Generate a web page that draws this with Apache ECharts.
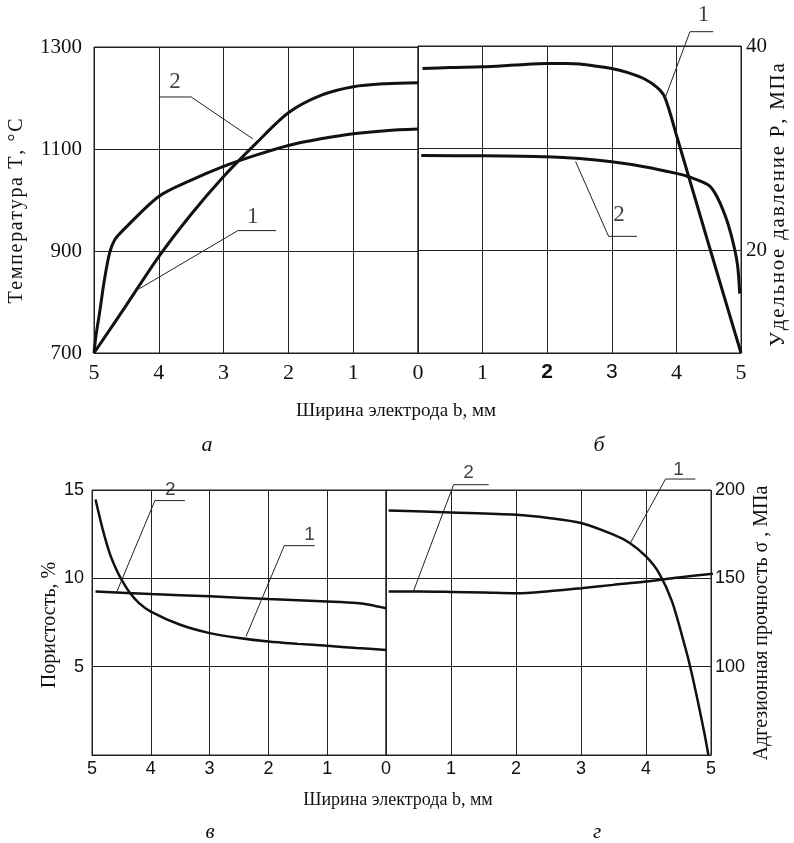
<!DOCTYPE html>
<html>
<head>
<meta charset="utf-8">
<script src="https://cdn.jsdelivr.net/npm/echarts@6/dist/echarts.min.js"></script>
<style>
html, body { margin: 0; padding: 0; background: #fff; }
#main { width: 794px; height: 843px; }
</style>
</head>
<body>
<div id="main"></div>
<script>
// а — температура, °C
const tempX1 = [5, 4.5, 4, 3.5, 3, 2.5, 2, 1.5, 1, 0.5, 0];
const tempY1 = [700, 794, 889, 972, 1046, 1111, 1171, 1205, 1222, 1228, 1230];
const tempX2 = [5, 4.965, 4.915, 4.84, 4.76, 4.68, 4.55, 4, 3.5, 3, 2.5, 2, 1.5, 1, 0.5, 0];
const tempY2 = [700, 738, 778, 843, 896, 922, 941, 1007, 1039, 1066, 1088, 1107, 1120, 1130, 1136, 1139];
// б — удельное давление, МПа
const presX1 = [0.07, 0.5, 1, 1.5, 2, 2.3, 2.5, 3, 3.25, 3.5, 3.7, 3.82, 4, 4.5, 5];
const presY1 = [37.8, 37.9, 37.97, 38.14, 38.3, 38.3, 38.25, 37.8, 37.4, 36.8, 35.96, 35.0, 31.3, 20.6, 10];
const presX2 = [0.05, 1, 2, 2.5, 3, 3.5, 4, 4.2, 4.5, 4.6, 4.7, 4.8, 4.9, 4.95, 4.98];
const presY2 = [29.3, 29.27, 29.17, 29.0, 28.68, 28.2, 27.55, 27.2, 26.4, 25.6, 24.3, 22.6, 20.2, 18.4, 15.8];
// в — пористость, %
const porX1 = [4.94, 4.82, 4.7, 4.6, 4.51, 4.36, 4.2, 4, 3.5, 3, 2.5, 2, 1.5, 1, 0.5, 0];
const porY1 = [14.46, 12.8, 11.43, 10.6, 10.0, 9.2, 8.6, 8.12, 7.37, 6.9, 6.62, 6.42, 6.29, 6.18, 6.06, 5.95];
const porX2 = [4.94, 4, 3, 2, 1, 0.5, 0.2, 0];
const porY2 = [9.26, 9.11, 8.98, 8.83, 8.69, 8.6, 8.45, 8.31];
// г — адгезионная прочность, МПа
const adhX1 = [0.04, 1, 2, 2.5, 3, 3.5, 3.75, 4, 4.2, 4.4, 4.6, 4.68, 4.8, 4.9, 4.96];
const adhY1 = [188.4, 187.3, 186, 184.2, 181.3, 174.7, 170, 162.4, 153, 137, 111.4, 100, 80, 62, 50];
const adhX2 = [0.04, 0.5, 1, 1.5, 2, 2.5, 3, 3.5, 4, 4.5, 5.03];
const adhY2 = [142.5, 142.5, 142.3, 142, 141.6, 142.7, 144.4, 146.3, 148.2, 150.5, 152.6];

// выноски (ломаные) и номера кривых, в координатах данных
const leadersA = [[[2.19, 940], [2.78, 940], [4.30, 826]], [[4.0, 1202], [3.5, 1202], [2.55, 1120]]];
const numbersA = [[2.55, 967, '1'], [3.75, 1232, '2']];
const leadersB = [[[4.57, 41.4], [4.21, 41.4], [3.83, 35.0]], [[3.39, 21.4], [2.95, 21.4], [2.44, 28.7]]];
const numbersB = [[4.42, 43.0, '1'], [3.11, 23.5, '2']];
const leadersC = [[[3.42, 14.4], [3.93, 14.4], [4.58, 9.22]], [[1.21, 11.85], [1.73, 11.85], [2.38, 6.71]]];
const numbersC = [[3.67, 15.0, '2'], [1.30, 12.47, '1']];
const leadersD = [[[1.58, 203], [1.04, 203], [0.42, 142.5]], [[4.76, 206.2], [4.30, 206.2], [3.76, 170]]];
const numbersD = [[1.27, 209.6, '2'], [4.50, 211.5, '1']];

const SERIF = 'Liberation Serif';
const SANS = 'Liberation Sans';
const INK = '#111';
const GRIDC = '#222';

function pairs(xs, ys) {
  return xs.map((x, i) => [x, ys[i]]);
}

function curve(idx, xs, ys, w) {
  return {
    type: 'line', xAxisIndex: idx, yAxisIndex: idx,
    data: pairs(xs, ys), smooth: 0.3,
    symbol: 'none', clip: false, silent: true,
    lineStyle: { color: INK, width: w }
  };
}

function leader(idx, pts) {
  return {
    type: 'line', xAxisIndex: idx, yAxisIndex: idx,
    data: pts, symbol: 'none', clip: false, silent: true,
    lineStyle: { color: GRIDC, width: 1 }
  };
}

function numbers(idx, pts, font, size) {
  return {
    type: 'scatter', xAxisIndex: idx, yAxisIndex: idx,
    data: pts, symbolSize: 1, clip: false, silent: true,
    itemStyle: { color: 'rgba(0,0,0,0)' },
    label: {
      show: true, position: 'inside', formatter: p => p.data[2],
      color: INK, fontFamily: font, fontSize: size
    }
  };
}

function xAxis(idx, inverse, hideZero, font, size, margin, mixed) {
  return {
    type: 'value', gridIndex: idx, min: 0, max: 5, interval: 1, inverse: inverse,
    axisLine: { show: true, lineStyle: { color: GRIDC, width: 1 } },
    axisTick: { show: false },
    splitLine: { show: true, lineStyle: { color: GRIDC, width: 1 } },
    axisLabel: {
      margin: margin, color: INK, fontFamily: font, fontSize: size,
      formatter: v => {
        if (hideZero && v === 0) return '';
        if (mixed && v === 2) return '{b|2}';
        if (mixed && v === 3) return '{s|3}';
        return String(v);
      },
      rich: mixed ? {
        b: { fontFamily: SANS, fontSize: size - 1, fontWeight: 'bold', color: INK },
        s: { fontFamily: SANS, fontSize: size - 1, color: INK }
      } : undefined
    }
  };
}

function yAxis(idx, pos, min, max, step, shown, font, size, margin) {
  return {
    type: 'value', gridIndex: idx, position: pos, min: min, max: max, interval: step,
    axisLine: { show: true, lineStyle: { color: GRIDC, width: 1 } },
    axisTick: { show: false },
    splitLine: { show: true, lineStyle: { color: GRIDC, width: 1 } },
    axisLabel: {
      margin: margin, color: INK, fontFamily: font, fontSize: size,
      formatter: v => shown.includes(v) ? String(v) : ''
    }
  };
}

const chart = echarts.init(document.getElementById('main'), null, { renderer: 'canvas' });

// разрядка букв в подписях осей, как в оригинале
const spaced = s => s.split('').join('\u200A');

function label(text, x, y, font, rot) {
  return {
    type: 'text', x: x, y: y, rotation: rot || 0,
    style: { text: text, font: font, fill: INK, align: 'center', verticalAlign: 'middle' }
  };
}

const option = {
  backgroundColor: '#fff',
  animation: false,
  grid: [
    { left: 94, top: 47, width: 324, height: 306, show: true, borderColor: GRIDC, borderWidth: 1 },
    { left: 418, top: 46, width: 323, height: 307, show: true, borderColor: GRIDC, borderWidth: 1 },
    { left: 92, top: 490, width: 294, height: 265, show: true, borderColor: GRIDC, borderWidth: 1 },
    { left: 386, top: 490, width: 325, height: 265, show: true, borderColor: GRIDC, borderWidth: 1 }
  ],
  xAxis: [
    xAxis(0, true, true, SERIF, 22, 9, false),
    xAxis(1, false, false, SERIF, 22, 9, true),
    xAxis(2, true, false, SANS, 18, 5, false),
    xAxis(3, false, true, SANS, 18, 5, false)
  ],
  yAxis: [
    yAxis(0, 'left', 700, 1300, 200, [700, 900, 1100, 1300], SERIF, 21, 12),
    yAxis(1, 'right', 10, 40, 10, [20, 40], SERIF, 21, 5),
    yAxis(2, 'left', 0, 15, 5, [5, 10, 15], SANS, 18, 8),
    yAxis(3, 'right', 50, 200, 50, [100, 150, 200], SANS, 18, 4)
  ],
  graphic: [
    label(spaced('Температура Т, °С'), 17, 211, '20px "Liberation Serif"', Math.PI / 2),
    label(spaced('Удельное давление Р, МПа'), 778, 205, '21px "Liberation Serif"', Math.PI / 2),
    label('Пористость, %', 50, 625, '20px "Liberation Serif"', Math.PI / 2),
    label('Адгезионная прочность σ , МПа', 762, 623, '20px "Liberation Serif"', Math.PI / 2),
    label('Ширина электрода b, мм', 396, 411, '19px "Liberation Serif"'),
    label('Ширина электрода b, мм', 398, 800, '18px "Liberation Serif"'),
    label('а', 207, 445, 'italic 22px "Liberation Serif"'),
    label('б', 599, 445, 'italic 22px "Liberation Serif"'),
    label('в', 210, 832, 'italic 21px "Liberation Serif"'),
    label('г', 597, 832, 'italic 21px "Liberation Serif"')
  ],
  series: [
    curve(0, tempX1, tempY1, 3),
    curve(0, tempX2, tempY2, 3),
    curve(1, presX1, presY1, 3),
    curve(1, presX2, presY2, 3),
    curve(2, porX1, porY1, 2.5),
    curve(2, porX2, porY2, 2.5),
    curve(3, adhX1, adhY1, 2.5),
    curve(3, adhX2, adhY2, 2.5),
    ...leadersA.map(l => leader(0, l)),
    ...leadersB.map(l => leader(1, l)),
    ...leadersC.map(l => leader(2, l)),
    ...leadersD.map(l => leader(3, l)),
    numbers(0, numbersA, SERIF, 23),
    numbers(1, numbersB, SERIF, 23),
    numbers(2, numbersC, SANS, 19),
    numbers(3, numbersD, SANS, 19)
  ]
};

chart.setOption(option);
</script>
</body>
</html>
